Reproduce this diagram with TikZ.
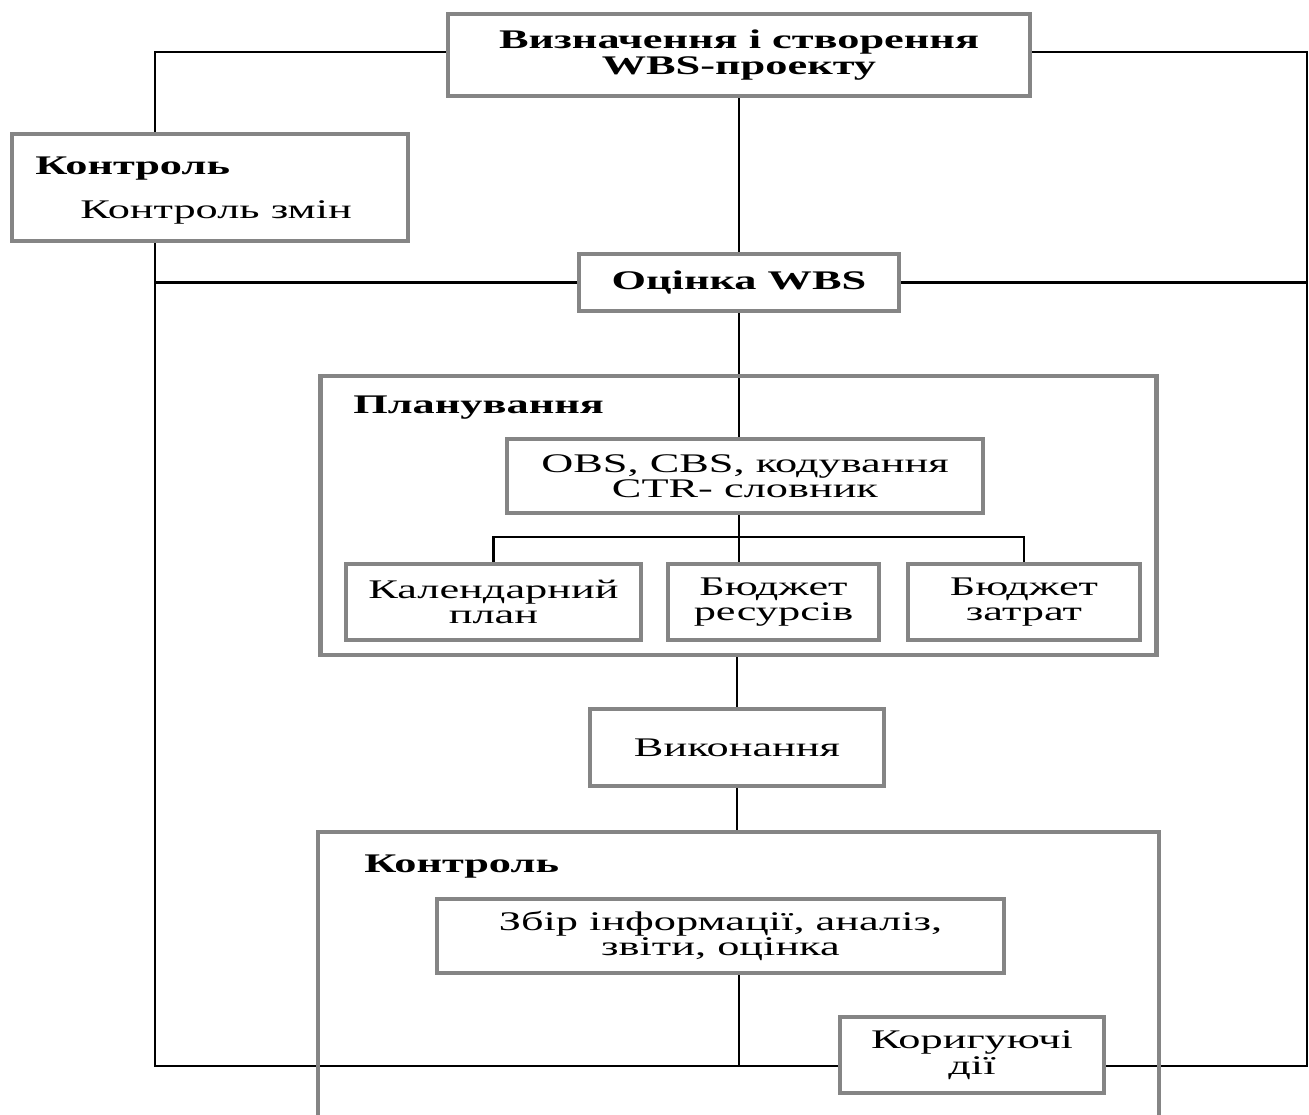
\documentclass[tikz,border=0pt]{standalone}
\usepackage{fontspec}
\setmainfont{Liberation Serif}[FakeStretch=1.65]
\usetikzlibrary{positioning, backgrounds}
\definecolor{boxgray}{HTML}{858585}
\newcommand{\wbsfont}{\fontsize{15.3pt}{14.5pt}\selectfont}

\tikzset{
  wbsbox/.style={draw=boxgray, line width=2.5pt, fill=white, align=center, inner sep=0pt},
  wbsframe/.style={draw=boxgray, line width=2.5pt},
  link/.style={draw=black, line width=1.3pt},
  title/.style={font=\wbsfont\bfseries, inner sep=0pt, anchor=base west},
  plain/.style={inner sep=0pt, anchor=base west},
}

\begin{document}
\begin{tikzpicture}[x=0.02cm, y=-0.02cm, font=\wbsfont]
    \useasboundingbox (0,0) rectangle (1309,1115);

    % main column
    \node[wbsbox, font=\wbsfont\bfseries, minimum width=11.64cm, minimum height=1.64cm] (top) at (739,55) {Визначення і створення\\WBS-проекту};
    \node[wbsbox, minimum width=7.92cm, minimum height=2.14cm] (chg) at (210,187.5) {};
    \node[title] (chgtitle) at (35,174) {Контроль};
    \node[plain] (chgtext) at (80,218) {Контроль змін};
    \node[wbsbox, font=\wbsfont\bfseries, minimum width=6.4cm, minimum height=1.14cm] (eval) at (739,282.5) {Оцінка WBS};

    % planning block
    \node[wbsframe, minimum width=16.72cm, minimum height=5.58cm] (plan) at (738.5,515.5) {};
    \node[title] (plantitle) at (353,413) {Планування};
    \node[wbsbox, minimum width=9.52cm, minimum height=1.48cm] (obs) at (745,476) {OBS, CBS, кодування\\CTR- словник};
    \node[wbsbox, minimum width=5.9cm, minimum height=1.52cm] (cal) at (493.5,602) {Календарний\\план};
    \node[wbsbox, minimum width=4.22cm, minimum height=1.52cm] (res) at (773.5,602) {Бюджет\\ресурсів};
    \node[wbsbox, minimum width=4.64cm, minimum height=1.52cm] (cost) at (1024,602) {Бюджет\\затрат};

    \node[wbsbox, minimum width=5.88cm, minimum height=1.54cm] (exec) at (737,747.5) {Виконання};

    % control block (open at the bottom)
    \coordinate (ctltop) at (738,832);
    \draw[wbsframe] (318,1115) |- (1159,832) -- (1159,1115);
    \node[title] (ctltitle) at (364,872) {Контроль};
    \node[wbsbox, minimum width=11.34cm, minimum height=1.48cm] (info) at (720.5,936) {Збір інформації, аналіз,\\звіти, оцінка};
    \node[wbsbox, minimum width=5.28cm, minimum height=1.52cm] (fix) at (972,1055) {Коригуючі\\дії};

    % feedback loop
    \coordinate (tl) at (155,52);
    \coordinate (tr) at (1307,52);
    \coordinate (bl) at (155,1066);
    \coordinate (br) at (1307,1066);

    \begin{scope}[on background layer]
        \draw[link] (top.west |- tl) -- (tl) -- (bl) -- (br) -- (tr) -- (top.east |- tr);
        \draw[link] (eval.west) -- (eval.west -| bl);
        \draw[link] (eval.east) -- (eval.east -| br);
        \draw[link] (top.south) -- (eval.north);
        \draw[link] (eval.south) -- (eval.south |- obs.north);
        \draw[link] (obs.south -| eval) -- ++(0,22) coordinate (fork);
        \draw[link] (cal.north) |- (fork) -| (cost.north);
        \draw[link] (fork) -- (fork |- res.north);
        \draw[link] (exec.north) -- (exec.north |- plan.south);
        \draw[link] (exec.south) -- (exec.south |- ctltop);
        \draw[link] (info.south -| eval) -- (eval |- bl);
    \end{scope}
\end{tikzpicture}
\end{document}
